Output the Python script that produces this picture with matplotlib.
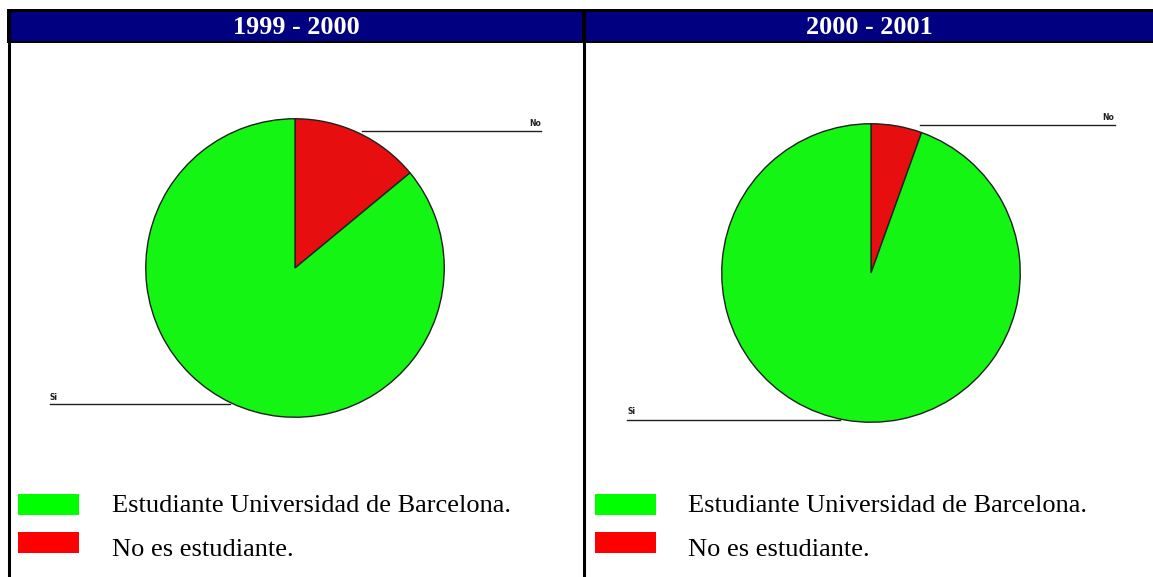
import matplotlib
matplotlib.use("Agg")
import matplotlib.pyplot as plt
from matplotlib.patches import Rectangle

W, H = 1153, 577

periods = ["1999 - 2000", "2000 - 2001"]
slice_labels = ["No", "Si"]
no_pct = [14.0, 5.5]
si_pct = [86.0, 94.5]
legend_labels = ["Estudiante Universidad de Barcelona.", "No es estudiante."]

pie_green = "#14F514"
pie_red = "#E60E0E"
leg_green = "#00FF00"
leg_red = "#FF0000"
navy = "#000080"

fig = plt.figure(figsize=(W / 100, H / 100), dpi=100)
fig.patch.set_facecolor("white")

# overlay axes in pixel coordinates
ov = fig.add_axes([0, 0, 1, 1])
ov.set_xlim(0, W)
ov.set_ylim(H, 0)
ov.axis("off")

# header bar
ov.add_patch(Rectangle((7, 9), W - 7, 34, facecolor="black", edgecolor="none", zorder=1))
ov.add_patch(Rectangle((10, 11.5), W - 10, 29.5, facecolor=navy, edgecolor="none", zorder=2))
ov.add_patch(Rectangle((582, 9), 2.5, 34, facecolor="black", edgecolor="none", zorder=3))
# vertical borders
ov.plot([8.5, 8.5], [9, H], color="black", lw=2.2, solid_capstyle="butt", zorder=3)
ov.plot([583.5, 583.5], [9, H], color="black", lw=2.2, solid_capstyle="butt", zorder=3)

panel_x0 = [10, 585]
panel_x1 = [582, W]
for i, p in enumerate(periods):
    cx = (panel_x0[i] + panel_x1[i]) / 2
    ov.text(cx, 27, p, color="white", fontsize=18.8, fontweight="bold",
            family="Liberation Serif", ha="center", va="center", zorder=4)

# pies
centers = [(295, 268), (871, 273)]
radius = 150
for i in range(2):
    cx, cy = centers[i]
    ax = fig.add_axes([(cx - radius) / W, (H - cy - radius) / H, 2 * radius / W, 2 * radius / H])
    ax.pie([no_pct[i], si_pct[i]], colors=[pie_red, pie_green], startangle=90,
           counterclock=False, radius=1,
           wedgeprops=dict(edgecolor="#202020", linewidth=1.0))
    ax.set_xlim(-1.005, 1.005)
    ax.set_ylim(-1.005, 1.005)
    ax.set_aspect("auto")
    ax.axis("off")

# leader lines and small labels
leaders = [
    # (x0, x1, y, label, label_x, label_y)
    (362, 541, 131, "No", 529, 124),
    (50, 230, 404, "Si", 50, 397),
    (920, 1115, 125, "No", 1102, 118),
    (627, 840, 420, "Si", 627, 411),
]
for x0, x1, y, lab, lx, ly in leaders:
    ov.plot([x0, x1], [y, y], color="#202020", lw=1.0, zorder=5)
    ov.text(lx, ly, lab, fontsize=5.5, family="DejaVu Sans", fontweight="bold",
            ha="left", va="center", color="#202020", zorder=5)

# legends
leg_x = [18, 595]
txt_x = [112, 688]
for i in range(2):
    ov.add_patch(Rectangle((leg_x[i], 494), 61, 21, facecolor=leg_green, edgecolor="none", zorder=4))
    ov.add_patch(Rectangle((leg_x[i], 532), 61, 21, facecolor=leg_red, edgecolor="none", zorder=4))
    ov.text(txt_x[i], 506, legend_labels[0], fontsize=19, family="Liberation Serif",
            ha="left", va="center", color="black", zorder=4)
    ov.text(txt_x[i], 550, legend_labels[1], fontsize=19, family="Liberation Serif",
            ha="left", va="center", color="black", zorder=4)

fig.savefig("out.png", dpi=100, facecolor="white")
